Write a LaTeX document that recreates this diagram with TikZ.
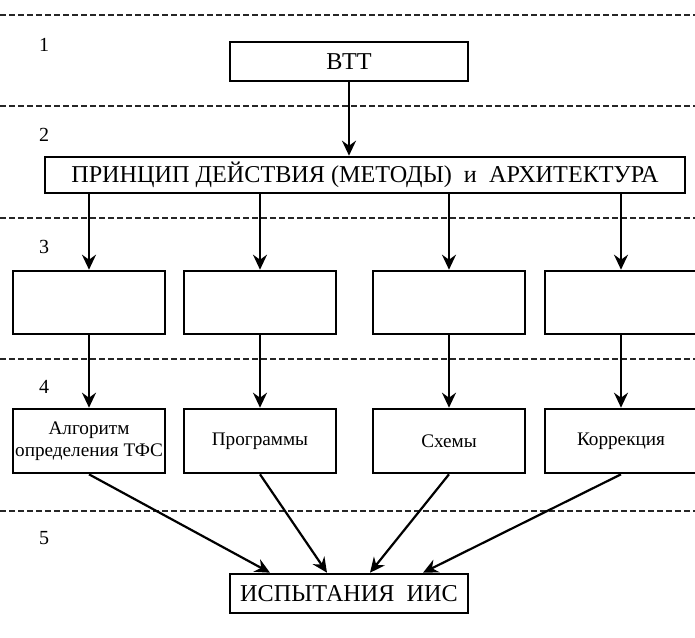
\documentclass[tikz,border=0pt]{standalone}
\usepackage{fontspec}
\setmainfont{Liberation Serif}
\usetikzlibrary{arrows.meta}
\begin{document}
\begin{tikzpicture}[x=1pt,y=-1pt,
  frame/.style={draw,line width=2.6pt,inner sep=0pt,align=center,fill=white},
  bigbox/.style={frame,font=\fontsize{24.2}{28}\selectfont},
  smallbox/.style={frame,minimum width=152pt,minimum height=63pt,font=\fontsize{19.2}{22}\selectfont},
  lvl/.style={font=\fontsize{20}{22}\selectfont,inner sep=0pt},
  sep/.style={line width=1.1pt,black!85,dash pattern=on 5.5pt off 3.5pt},
  arr/.style={line width=2.2pt,-{Stealth[length=15pt,width=14pt,inset=5pt]}}
]
\useasboundingbox (0,0) rectangle (695,637);
\fill[white] (0,0) rectangle (695,637);

% level separators
\foreach \yy in {15,106,218,359,511} \draw[sep] (0,\yy) -- (695,\yy);

% level numbers
\node[lvl] (n1) at (44,45) {1};
\node[lvl] (n2) at (44,135) {2};
\node[lvl] (n3) at (44,247) {3};
\node[lvl] (n4) at (44,387) {4};
\node[lvl] (n5) at (44,538) {5};

% boxes
\node[bigbox,minimum width=238pt,minimum height=39pt] (vtt) at (349,61.5) {ВТТ};
\node[bigbox,minimum width=640pt,minimum height=36pt] (main) at (365,175) {ПРИНЦИП ДЕЙСТВИЯ (МЕТОДЫ)\ \ и\ \ АРХИТЕКТУРА};

\node[smallbox] (b1) at (89,302.5) {};
\node[smallbox] (b2) at (260,302.5) {};
\node[smallbox] (b3) at (449,302.5) {};
\node[smallbox] (b4) at (621,302.5) {};

\node[smallbox,minimum height=64pt] (c1) at (89,441) {Алгоритм\\определения ТФС};
\node[smallbox,minimum height=64pt] (c2) at (260,441) {Программы};
\node[smallbox,minimum height=64pt] (c3) at (449,441) {Схемы};
\node[smallbox,minimum height=64pt,text depth=3pt] (c4) at (621,441) {Коррекция};

\node[bigbox,minimum width=238pt,minimum height=39pt] (test) at (349,593.5) {ИСПЫТАНИЯ\ \ ИИС};

% connectors
\draw[arr] (vtt.south) -- (vtt.south |- main.north);
\foreach \i in {1,2,3,4} {
  \draw[arr] (main.south -| b\i.north) -- (b\i.north);
  \draw[arr] (b\i.south) -- (c\i.north);
}
\coordinate (t1) at ([xshift=-79pt]test.north);
\coordinate (t2) at ([xshift=-22pt]test.north);
\coordinate (t3) at ([xshift=21pt]test.north);
\coordinate (t4) at ([xshift=74pt]test.north);
\foreach \i in {1,2,3,4} \draw[arr] (c\i.south) -- (t\i);
\end{tikzpicture}
\end{document}
